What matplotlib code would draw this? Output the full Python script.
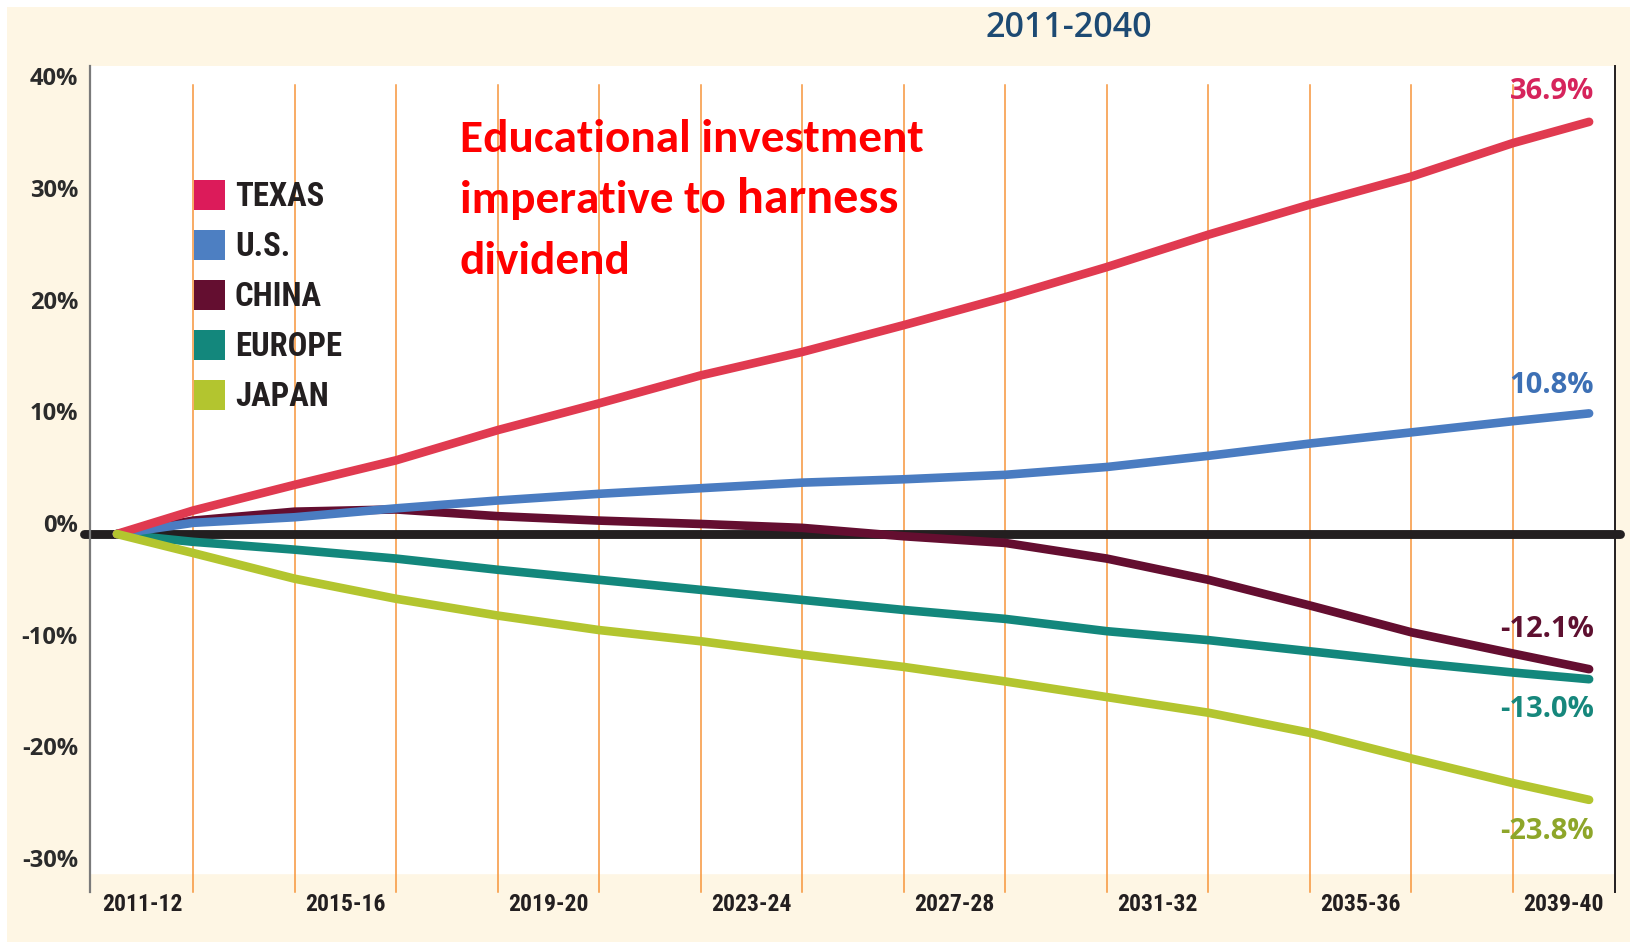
import matplotlib
matplotlib.use("Agg")
import matplotlib.pyplot as plt
import matplotlib.font_manager as fm
from matplotlib.patches import Rectangle

# data (percent change vs 2011)
years = [2011, 2012.5, 2014.5, 2016.5, 2018.5, 2020.5, 2022.5, 2024.5,
         2026.5, 2028.5, 2030.5, 2032.5, 2034.5, 2036.5, 2038.5, 2040]
texas = [0, 2.1, 4.4, 6.6, 9.3, 11.7, 14.2, 16.3, 18.7, 21.2, 23.9, 26.8, 29.5, 32.0, 35.0, 36.9]
us = [0, 1.0, 1.5, 2.3, 3.0, 3.6, 4.1, 4.6, 4.9, 5.3, 6.0, 7.0, 8.1, 9.1, 10.1, 10.8]
china = [0, 1.2, 2.0, 2.2, 1.6, 1.2, 0.9, 0.55, -0.2, -0.8, -2.2, -4.1, -6.4, -8.8, -10.7, -12.1]
europe = [0, -0.7, -1.4, -2.2, -3.2, -4.1, -5.0, -5.9, -6.8, -7.6, -8.7, -9.5, -10.5, -11.5, -12.4, -13.0]
japan = [0, -1.7, -4.0, -5.8, -7.3, -8.6, -9.6, -10.8, -11.9, -13.2, -14.6, -16.0, -17.8, -20.1, -22.3, -23.8]

names = ['TEXAS', 'U.S.', 'CHINA', 'EUROPE', 'JAPAN']
end_labels = ['36.9%', '10.8%', '-12.1%', '-13.0%', '-23.8%']
x_ticks = [2011.5, 2015.5, 2019.5, 2023.5, 2027.5, 2031.5, 2035.5, 2039.5]
x_ticklabels = ['2011-12', '2015-16', '2019-20', '2023-24', '2027-28', '2031-32', '2035-36', '2039-40']
y_ticks = [40, 30, 20, 10, 0, -10, -20, -30]

line_colors = ['#e03a50', '#4a7cc1', '#640e30', '#13877c', '#b3c52f']
box_colors = ['#dc1b5a', '#4d7fc2', '#640e30', '#13877c', '#b3c52f']
label_colors = ['#d6245c', '#3d70b5', '#5e1030', '#16877c', '#8ea62a']
label_dy = [30, 28, 40, -30, -32]  # pixels above/below the line end
zorders = [6, 5, 3, 4, 7]

avail = {f.name for f in fm.fontManager.ttflist}
def pick(*cands):
    return next((c for c in cands if c in avail), 'DejaVu Sans')

main_font = pick('Open Sans', 'Lato', 'DejaVu Sans')
cond_font = pick('Roboto Condensed', 'Barlow Condensed', 'Open Sans')
red_font = pick('Carlito', 'Lato', 'Open Sans')

W, H = 1630, 942
fig = plt.figure(figsize=(W / 100, H / 100), dpi=100)
fig.patch.set_facecolor('white')

# cream background panel
fig.patches.append(Rectangle((7 / W, 0), 1 - 7 / W, 1 - 7 / H, transform=fig.transFigure,
                             facecolor='#fef6e4', edgecolor='none', zorder=-5))

ax = fig.add_axes([90 / W, 1 - 892 / H, 1525 / W, 826 / H])
ax.set_facecolor('none')
ax.set_xlim(2010.47, 2040.51)
ax.set_ylim(-32.05, 41.9)

# white plotting area
ax.axhspan(-30.35, 41.9, color='white', zorder=0)

# orange verticals
for gx in range(2012, 2039, 2):
    ax.plot([gx + 0.5, gx + 0.5], [-32.05, 40.2], color='#f7953a', lw=1.1, zorder=1, clip_on=False)

# zero line
ax.axhline(0, xmin=-0.004, xmax=1.003, color='#231f20', lw=6.4, solid_capstyle='round',
           zorder=2, clip_on=False)

series = [texas, us, china, europe, japan]
for vals, c, z, lab, lc, dy in zip(series, line_colors, zorders, end_labels, label_colors, label_dy):
    ax.plot(years, vals, color=c, lw=6.2, solid_capstyle='round', solid_joinstyle='round', zorder=z)
    ax.annotate(lab, (years[-1], vals[-1]), xytext=(5, dy), textcoords='offset pixels',
                ha='right', va='center', color=lc, fontsize=21, fontweight='bold',
                family=main_font, zorder=8)

for s in ['top', 'bottom']:
    ax.spines[s].set_visible(False)
ax.spines['left'].set_color('#7a7a7a')
ax.spines['left'].set_linewidth(1.6)
ax.spines['right'].set_color('#231f20')
ax.spines['right'].set_linewidth(1.4)

ax.set_yticks([])
for v in y_ticks:
    ax.text(-12 / 1525, v + 0.72, f'{v}%', transform=ax.get_yaxis_transform(), ha='right',
            va='center', fontsize=17, fontweight='bold', color='#2b2b2b', family=main_font)

ax.set_xticks(x_ticks)
ax.set_xticklabels(x_ticklabels, fontsize=17, fontweight='bold', color='#231f20', family=cond_font)
ax.tick_params(axis='x', length=0, pad=1)

# title
fig.text(1069 / W, 1 - 28 / H, '2011-2040', ha='center', va='center', fontsize=24.5,
         fontweight='semibold', color='#1d4a73', family=main_font)

# legend
for i, (n, c) in enumerate(zip(names, box_colors)):
    cy = 195 + 50 * i
    fig.patches.append(Rectangle((194 / W, 1 - (cy + 15) / H), 31 / W, 30 / H,
                                 transform=fig.transFigure, facecolor=c, edgecolor='none', zorder=5))
    fig.text(235 / W, 1 - (cy + 2) / H, n, ha='left', va='center', fontsize=23.5,
             fontweight='bold', color='#231f20', family=cond_font)

# red annotation
red = '#ff0000'
fig.text(460 / W, 1 - 152 / H, 'Educational investment', ha='left', va='baseline',
         fontsize=34, fontweight='bold', color=red, family=red_font)
t2 = fig.text(460 / W, 1 - 213 / H, 'imperative to ', ha='left', va='baseline',
              fontsize=34, fontweight='bold', color=red, family=red_font)
fig.canvas.draw()
bb = t2.get_window_extent(fig.canvas.get_renderer())
fig.text(bb.x1 / W, 1 - 213 / H, 'harness', ha='left', va='baseline',
         fontsize=36, fontweight='bold', color=red, family=red_font)
fig.text(460 / W, 1 - 274 / H, 'dividend', ha='left', va='baseline',
         fontsize=34, fontweight='bold', color=red, family=red_font)

fig.savefig('out.png', dpi=100, facecolor='white')
